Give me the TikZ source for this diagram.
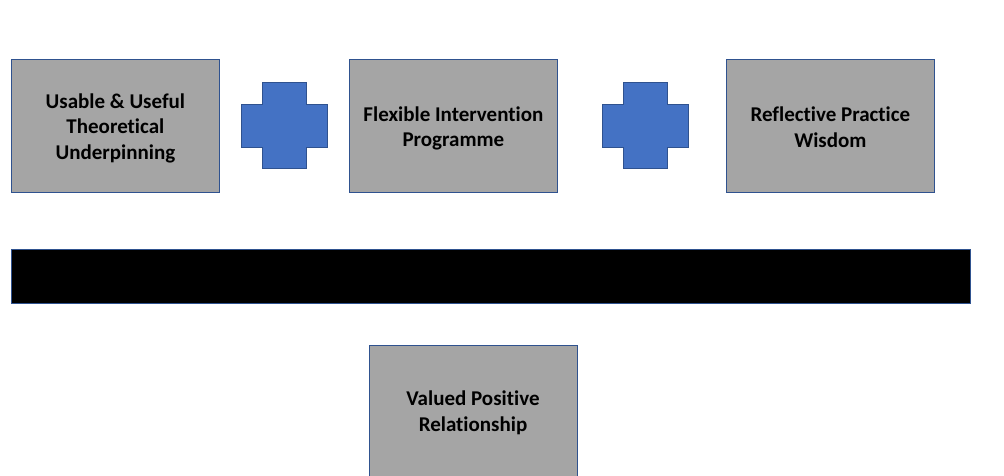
\documentclass[tikz,border=0pt]{standalone}
\usepackage{fontspec}
\setmainfont[Ligatures={NoCommon}]{Carlito}
\definecolor{boxgray}{HTML}{A5A5A5}
\definecolor{plusblue}{HTML}{4472C4}
\definecolor{edgeblue}{HTML}{2F528F}
\begin{document}
\begin{tikzpicture}[x=1pt,y=-1pt,
  labelfont/.style={font=\bfseries\fontsize{21}{25.5}\selectfont, text=black, align=center},
  card/.style={draw=edgeblue, line width=0.8pt, fill=boxgray, minimum width=208pt,
    minimum height=133pt, inner sep=0pt, anchor=north west},
  plussign/.style={draw=edgeblue, line width=0.8pt, fill=plusblue},
  bar/.style={draw=edgeblue, line width=0.8pt, fill=black, minimum width=959pt,
    minimum height=54pt, inner sep=0pt, anchor=north west}]
  \useasboundingbox (0,0) rectangle (1004,475);
  \clip (0,0) rectangle (1004,475);

  % top row of components
  \node[card] (theory) at (11,59) {};
  \node[card] (programme) at (349,59) {};
  \node[card] (wisdom) at (726,59) {};
  \node[labelfont] (theorytext) at ([yshift=-2.5pt]theory.center)
    {Usable \& Useful\\Theoretical\\Underpinning};
  \node[labelfont] (programmetext) at ([yshift=-2.5pt]programme.center)
    {Flexible Intervention\\Programme};
  \node[labelfont] (wisdomtext) at ([yshift=-1.5pt]wisdom.center)
    {Reflective Practice\\Wisdom};

  % plus signs between the components
  \foreach \ox/\nm in {241/plusa, 602/plusb} {
    \draw[plussign] (\ox+21,82) -- (\ox+65,82) -- (\ox+65,104) -- (\ox+86,104)
      -- (\ox+86,147) -- (\ox+65,147) -- (\ox+65,168) -- (\ox+21,168)
      -- (\ox+21,147) -- (\ox,147) -- (\ox,104) -- (\ox+21,104) -- cycle;
  }

  % dividing bar
  \node[bar] (divider) at (11,249) {};

  % foundation, running off the bottom edge
  \node[card, minimum height=150pt] (relationship) at (369,345) {};
  \node[labelfont] (reltext) at (473,413)
    {Valued Positive\\Relationship};
\end{tikzpicture}
\end{document}
